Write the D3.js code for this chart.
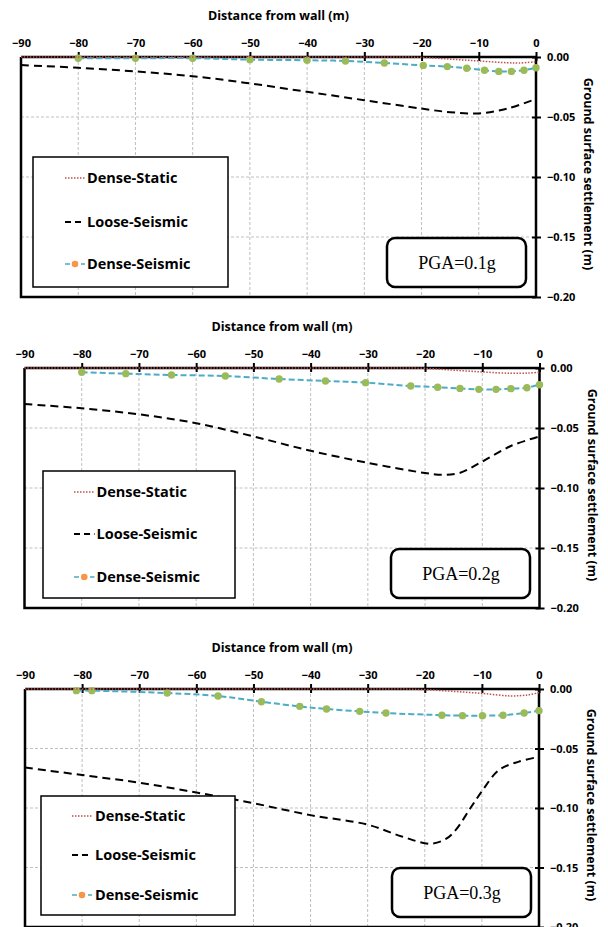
<!DOCTYPE html>
<html>
<head>
<meta charset="utf-8">
<script src="https://cdn.jsdelivr.net/npm/d3@7"></script>
<style>
   body { margin: 0; background: #fff; }
   svg { display: block; }
   text { font-family: 'Open Sans', Lato, sans-serif; font-weight: 700; fill: #000; }
   text.pga { font-family: 'Liberation Serif', 'Times New Roman', serif; font-weight: 400; }
</style>
</head>
<body>
<svg id="chart" width="608" height="927"></svg>
<script>

// X TICKS & Y TICKS
var xTicks = [-90, -80, -70, -60, -50, -40, -30, -20, -10, 0];
var yTicks = [0, -0.05, -0.10, -0.15, -0.20];

// SERIES NAMES
var seriesNames = ['Dense-Static', 'Loose-Seismic', 'Dense-Seismic'];
var pgaLabels = ['PGA=0.1g', 'PGA=0.2g', 'PGA=0.3g'];

// PGA = 0.1g
var static1X = [-90, -80, -60, -40, -25, -20, -15, -10, -5, -3, 0];
var static1Y = [0, 0, 0, 0, 0, -0.0003, -0.0018, -0.0033, -0.0048, -0.005, -0.004];
var loose1X = [-90, -80, -70, -60, -50, -40, -30, -20, -15, -10, -5, 0];
var loose1Y = [-0.0067, -0.009, -0.012, -0.016, -0.022, -0.029, -0.036, -0.043, -0.046, -0.047, -0.043, -0.035];
var dense1X = [-80, -70, -60, -50, -40, -33.3, -26.5, -19.7, -15.5, -12.1, -9, -6.5, -4.3, -2.1, 0];
var dense1Y = [-0.001, -0.001, -0.001, -0.0022, -0.0027, -0.0033, -0.005, -0.007, -0.008, -0.0094, -0.011, -0.012, -0.012, -0.011, -0.009];

// PGA = 0.2g
var static2X = [-90, -80, -60, -40, -25, -20, -15, -10, -5, -2, 0];
var static2Y = [0, 0, 0, 0, 0, -0.0003, -0.0018, -0.0033, -0.0044, -0.0042, -0.0036];
var loose2X = [-90, -80, -70, -60, -50, -40, -30, -20, -17, -14, -10, -5, 0];
var loose2Y = [-0.030, -0.0336, -0.0386, -0.046, -0.057, -0.069, -0.079, -0.0875, -0.089, -0.0875, -0.078, -0.065, -0.057];
var dense2X = [-80, -72.3, -64.3, -54.9, -45.5, -37.4, -30.4, -22.5, -17.8, -13.9, -10.6, -7.6, -5, -2.2, 0];
var dense2Y = [-0.0036, -0.0047, -0.0058, -0.0067, -0.0092, -0.0108, -0.0122, -0.015, -0.016, -0.017, -0.0178, -0.0178, -0.0172, -0.0164, -0.0139];

// PGA = 0.3g
var static3X = [-90, -80, -60, -40, -25, -20, -15, -10, -5, -2, 0];
var static3Y = [0, 0, 0, 0, 0, -0.0005, -0.002, -0.0037, -0.0058, -0.005, -0.003];
var loose3X = [-90, -80, -70, -60, -50, -40, -30, -24, -19, -16.3, -14.5, -12, -10, -7, -3.5, 0];
var loose3Y = [-0.066, -0.0723, -0.0787, -0.087, -0.096, -0.106, -0.114, -0.124, -0.130, -0.126, -0.118, -0.100, -0.086, -0.068, -0.061, -0.057];
var dense3X = [-81, -78.3, -65.1, -56.2, -48.6, -41.9, -37.2, -31.4, -26.8, -17, -13.4, -9.9, -6.3, -2.6, 0];
var dense3Y = [-0.0014, -0.0014, -0.0034, -0.0059, -0.0107, -0.0146, -0.0168, -0.0188, -0.0202, -0.022, -0.0224, -0.0224, -0.022, -0.0202, -0.0182];

// COLOURS
var colors = { static: '#c0504d', loose: '#000', dense: '#4bacc6', marker: '#9bbb59', legendMarker: '#f79646', grid: '#bfbfbf' };

// PANEL LAYOUT
var panels = [
   { left: 21, top: 57, width: 515, height: 240, legend: [12, 100, 195, 130], rows: [121, 165, 207], sample: [44, 64], text: 66, pga: [366, 181] },
   { left: 24.5, top: 368, width: 515, height: 240, legend: [18.5, 103, 192, 127], rows: [124, 166, 209], sample: [49.5, 70], text: 72, pga: [366.5, 181] },
   { left: 25, top: 689, width: 514, height: 238, legend: [16, 107, 194, 119], rows: [127, 166, 206], sample: [47, 67], text: 70, pga: [367, 179] }
];

var series = [
   { sx: static1X, sy: static1Y, lx: loose1X, ly: loose1Y, dx: dense1X, dy: dense1Y },
   { sx: static2X, sy: static2Y, lx: loose2X, ly: loose2Y, dx: dense2X, dy: dense2Y },
   { sx: static3X, sy: static3Y, lx: loose3X, ly: loose3Y, dx: dense3X, dy: dense3Y }
];

var svg = d3.select('#chart');

// DRAW EACH PANEL
panels.forEach((p, k) => {

   var s = series[k];

   // X-SCALING
   var xScale = d3.scaleLinear()
      .domain([-90, 0])
      .range([0, p.width])

   // Y-SCALING
   var yScale = d3.scaleLinear()
      .domain([0, -0.20])
      .range([0, p.height])

   var g = svg.append('g')
      .attr('transform', 'translate(' + p.left + ',' + p.top + ')')

   // GRID LINES
   g.selectAll('.vgrid')
      .data(xTicks.filter(d => d > -90 && d < 0))
         .enter().append('line')
            .attr('x1', d => xScale(d))
            .attr('x2', d => xScale(d))
            .attr('y1', 0)
            .attr('y2', p.height)
            .attr('stroke', colors.grid)
            .attr('stroke-dasharray', '3,2')

   g.selectAll('.hgrid')
      .data(yTicks.filter(d => d < 0 && d > -0.20))
         .enter().append('line')
            .attr('x1', 0)
            .attr('x2', p.width)
            .attr('y1', d => yScale(d))
            .attr('y2', d => yScale(d))
            .attr('stroke', colors.grid)
            .attr('stroke-dasharray', '3,2')

   // PLOT BORDER (LEFT & BOTTOM)
   g.append('path')
      .attr('d', 'M0,0V' + p.height + 'H' + p.width)
      .attr('fill', 'none')
      .attr('stroke', '#000')
      .attr('stroke-width', 2.5)

   // X-AXIS ON TOP
   var xAxis = d3.axisTop(xScale)
      .tickValues(xTicks)
      .tickSize(5)
      .tickPadding(5)
      .tickFormat(d3.format('d'))

   var xg = g.append('g').call(xAxis)
   xg.select('.domain').attr('stroke-width', 2.5).attr('d', 'M0,0H' + p.width)
   xg.selectAll('.tick line').attr('y1', 4).attr('stroke-width', 2)
      .filter(d => d === -90).remove()
   xg.selectAll('.tick text').style('font-size', '11px')

   // Y-AXIS ON RIGHT
   var yAxis = d3.axisRight(yScale)
      .tickValues(yTicks)
      .tickSize(5)
      .tickPadding(6)
      .tickFormat(d3.format('.2f'))

   var yg = g.append('g')
      .attr('transform', 'translate(' + p.width + ',0)')
      .call(yAxis)
   yg.select('.domain').attr('stroke-width', 2.5).attr('d', 'M0,0V' + p.height)
   yg.selectAll('.tick line').attr('x1', -4).attr('stroke-width', 2)
   yg.selectAll('.tick text').style('font-size', '11px')

   // AXIS TITLES
   g.append('text')
      .attr('x', p.width / 2)
      .attr('y', -37)
      .attr('text-anchor', 'middle')
      .style('font-size', '12.5px')
      .text('Distance from wall (m)')

   g.append('text')
      .attr('transform', 'translate(' + (p.width + 48) + ',' + (p.height / 2 - 3) + ') rotate(90)')
      .attr('text-anchor', 'middle')
      .style('font-size', '12.5px')
      .text('Ground surface settlement (m)')

   // LINE GENERATORS
   var line = d3.line()
      .x(d => xScale(d[0]))
      .y(d => yScale(d[1]))
      .curve(d3.curveCatmullRom.alpha(0.5))

   var loose = d3.zip(s.lx, s.ly);
   var dense = d3.zip(s.dx, s.dy);
   var stat = d3.zip(s.sx, s.sy);

   // LOOSE-SEISMIC
   g.append('path')
      .attr('d', line(loose))
      .attr('fill', 'none')
      .attr('stroke', colors.loose)
      .attr('stroke-width', 2)
      .attr('stroke-dasharray', '8,5')

   // DENSE-SEISMIC
   g.append('path')
      .attr('d', line(dense))
      .attr('fill', 'none')
      .attr('stroke', colors.dense)
      .attr('stroke-width', 2)
      .attr('stroke-dasharray', '6,3')

   g.selectAll('.marker')
      .data(dense)
         .enter().append('circle')
            .attr('cx', d => xScale(d[0]))
            .attr('cy', d => yScale(d[1]))
            .attr('r', 3.7)
            .attr('fill', colors.marker)

   // DENSE-STATIC
   g.append('path')
      .attr('d', line(stat))
      .attr('fill', 'none')
      .attr('stroke', colors.static)
      .attr('stroke-width', 1.5)
      .attr('stroke-dasharray', '1.5,1.5')

   // LEGEND BOX
   var lg = g.append('g')
   lg.append('rect')
      .attr('x', p.legend[0])
      .attr('y', p.legend[1])
      .attr('width', p.legend[2])
      .attr('height', p.legend[3])
      .attr('fill', '#fff')
      .attr('stroke', '#000')
      .attr('stroke-width', 1.5)

   var styles = [
      { stroke: colors.static, dash: '1.5,1.5', w: 1.5 },
      { stroke: colors.loose, dash: '6,4', w: 2 },
      { stroke: colors.dense, dash: '5,3', w: 1.5 }
   ];

   seriesNames.forEach((name, i) => {
      var y = p.rows[i];
      lg.append('line')
         .attr('x1', p.sample[0])
         .attr('x2', p.sample[1])
         .attr('y1', y)
         .attr('y2', y)
         .attr('stroke', styles[i].stroke)
         .attr('stroke-width', styles[i].w)
         .attr('stroke-dasharray', styles[i].dash)
      if (i === 2) {
         lg.append('circle')
            .attr('cx', (p.sample[0] + p.sample[1]) / 2)
            .attr('cy', y)
            .attr('r', 3.3)
            .attr('fill', colors.legendMarker)
      }
      lg.append('text')
         .attr('x', p.text)
         .attr('y', y)
         .attr('dy', '0.35em')
         .style('font-size', '14.5px')
         .text(name)
   });

   // PGA LABEL
   g.append('rect')
      .attr('x', p.pga[0])
      .attr('y', p.pga[1])
      .attr('width', 139)
      .attr('height', 49)
      .attr('rx', 8)
      .attr('fill', '#fff')
      .attr('stroke', '#000')
      .attr('stroke-width', 2.5)

   g.append('text')
      .attr('class', 'pga')
      .attr('x', p.pga[0] + 70)
      .attr('y', p.pga[1] + 25)
      .attr('dy', '0.35em')
      .attr('text-anchor', 'middle')
      .style('font-size', '18px')
      .text(pgaLabels[k])
});

</script>
</body>
</html>
